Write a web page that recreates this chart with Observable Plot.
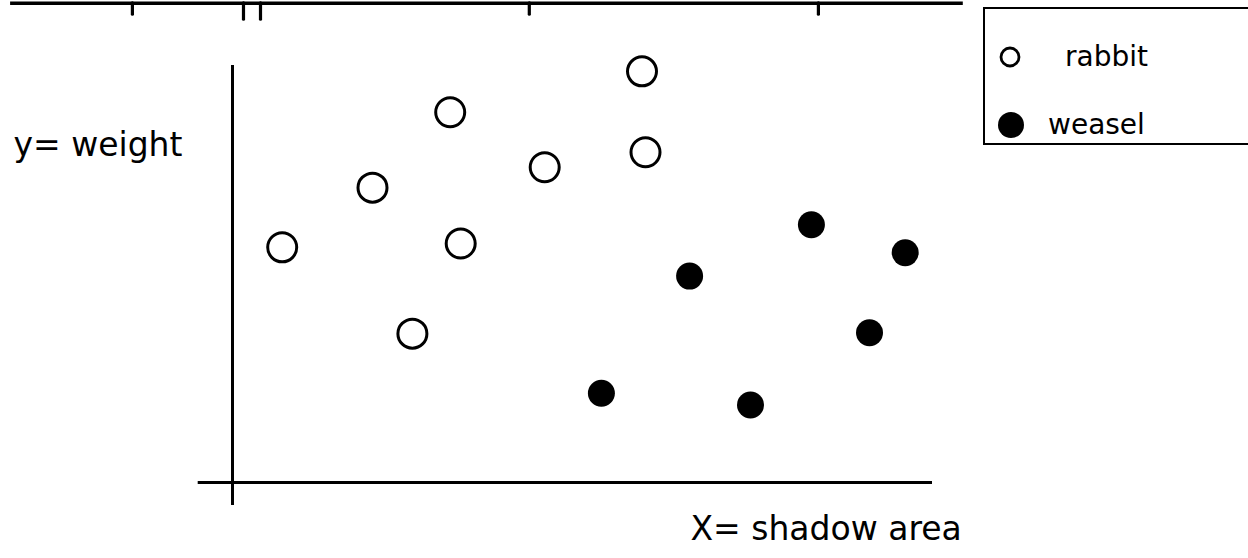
<!DOCTYPE html>
<html>
<head>
<meta charset="utf-8">
<script src="https://cdn.jsdelivr.net/npm/d3@7"></script>
<script src="https://cdn.jsdelivr.net/npm/@observablehq/plot@0.6"></script>
<style>
  html, body { margin: 0; padding: 0; background: #fff; }
  #wrap { position: relative; width: 1248px; height: 558px; overflow: hidden;
          font-family: "DejaVu Sans", sans-serif; }
  #legend { position: absolute; left: 983px; top: 7px; width: 290px; height: 138px;
            border: 2.5px solid #000; box-sizing: border-box; background: #fff; }
  #legend .item { position: absolute; left: 0; height: 40px; width: 100%; }
  #legend svg { position: absolute; top: 0; left: 0; overflow: visible; }
  #legend span { position: absolute; font-size: 28px; line-height: 40px; top: 0; color: #000; }
</style>
</head>
<body>
<div id="wrap"></div>
<script>
// Two species: shadow area (x) against weight (y)
const species = ["rabbit", "weasel"];
const rabbitShadow = [5.85, 3.11, 4.46, 5.90, 2.00, 0.71, 3.26, 2.57];
const rabbitWeight = [9.86, 8.88, 7.56, 7.92, 7.07, 5.64, 5.73, 3.57];
const weaselShadow = [8.27, 9.61, 6.53, 9.10, 5.27, 7.40];
const weaselWeight = [6.18, 5.51, 4.95, 3.59, 2.14, 1.86];
const xLabel = "X= shadow area";
const yLabel = "y= weight";

// Rule along the top edge with the short ticks hanging from it
const stripLevel = 11.49;
const stripExtent = [-3.17, 10.44];
const stripTicks = [-1.43, 0.157, 0.40, 4.24, 8.37];
const stripTickEnds = [11.22, 11.10, 11.10, 11.22, 11.22];

const rabbits = rabbitShadow.map((x, i) => ({x, y: rabbitWeight[i]}));
const weasels = weaselShadow.map((x, i) => ({x, y: weaselWeight[i]}));

const ink = "#000";
const chart = Plot.plot({
  width: 1248,
  height: 558,
  marginLeft: 232,
  marginRight: 316,
  marginTop: 65,
  marginBottom: 76,
  x: {domain: [0, 10], axis: null},
  y: {domain: [0, 10], axis: null},
  style: {background: "#fff", fontFamily: "DejaVu Sans, sans-serif", fontSize: "33px", overflow: "visible"},
  marks: [
    // hand-drawn axes crossing a little past the origin
    Plot.ruleY([0], {x1: -0.49, x2: 10, stroke: ink, strokeWidth: 3.2}),
    Plot.ruleX([0], {y1: -0.55, y2: 10, stroke: ink, strokeWidth: 3}),
    // top rule and its ticks
    Plot.ruleY([stripLevel], {x1: stripExtent[0], x2: stripExtent[1], stroke: ink, strokeWidth: 3.5}),
    Plot.ruleX(stripTicks, {y1: stripLevel, y2: stripTickEnds, stroke: ink, strokeWidth: 3.2, strokeLinecap: "round"}),
    // rabbits: open circles
    Plot.dot(rabbits, {x: "x", y: "y", r: 14.5, fill: "#fff", stroke: ink, strokeWidth: 3}),
    // weasels: filled circles
    Plot.dot(weasels, {x: "x", y: "y", r: 13.5, fill: ink, stroke: "none"}),
    // axis labels
    Plot.text([yLabel], {frameAnchor: "top-left", dx: -219, dy: 67, textAnchor: "start", fill: ink}),
    Plot.text([xLabel], {frameAnchor: "bottom-left", dx: 458, dy: 57, textAnchor: "start", fill: ink})
  ]
});

const wrap = document.getElementById("wrap");
wrap.appendChild(chart);

// Legend box at the upper right
const legend = d3.select(wrap).append("div").attr("id", "legend");
const legendLayout = {
  rabbit: {top: 28, cx: 25, r: 9, filled: false, textLeft: 80},
  weasel: {top: 96, cx: 26, r: 13, filled: true, textLeft: 63}
};
for (const name of species) {
  const L = legendLayout[name];
  const item = legend.append("div").attr("class", "item").style("top", L.top + "px");
  const svg = item.append("svg").attr("width", 60).attr("height", 40);
  svg.append("circle")
    .attr("cx", L.cx).attr("cy", 20).attr("r", L.r)
    .attr("fill", L.filled ? ink : "none")
    .attr("stroke", L.filled ? "none" : ink)
    .attr("stroke-width", 2.8);
  item.append("span").style("left", L.textLeft + "px").text(name);
}
</script>
</body>
</html>
